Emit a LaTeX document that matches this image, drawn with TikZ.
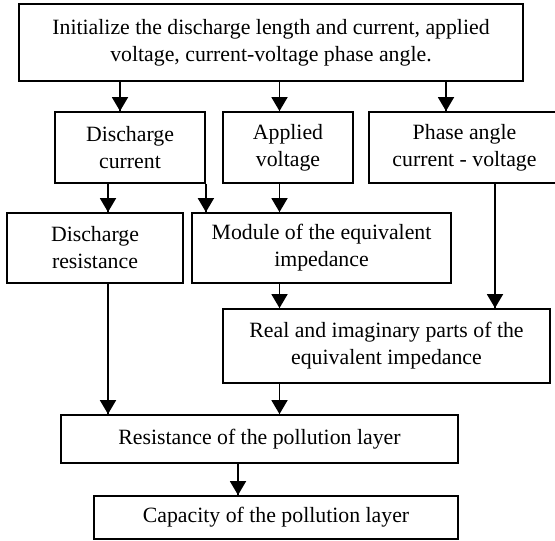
\documentclass[tikz,border=0pt]{standalone}
\usepackage{fontspec}
\setmainfont{Liberation Serif}
\usetikzlibrary{arrows.meta}
\usetikzlibrary{decorations.markings}
\tikzset{->/.style = {decoration={markings,
                                  mark=at position 1 with {\arrow{Triangle[width=16pt,length=14pt]}}},
                      postaction={decorate}}}
\tikzset{box/.style = {draw, line width=1.8pt, align=center, inner sep=0,
                       font=\fontsize{21.8}{27}\selectfont}}

\begin{document}
\begin{tikzpicture}[x=1pt, y=-1pt, line width=1.8pt]
    \useasboundingbox (0, 0) rectangle (555, 541);
    \coordinate (c1) at (108, 0);
    \coordinate (c2) at (120, 0);
    \coordinate (c4) at (238, 0);
    \coordinate (c5) at (279.5, 0);
    \coordinate (c6) at (446, 0);
    \coordinate (c7) at (495, 0);
    \node [box, minimum width=504pt, minimum height=77pt] (init) at (271, 42.5)
        {Initialize the discharge length and current, applied\\voltage, current-voltage phase angle.};
    \node [box, minimum width=150pt, minimum height=71pt] (cur) at (130, 147.5) {Discharge\\current};
    \node [box, minimum width=130pt, minimum height=71pt] (volt) at (288, 147.5) {Applied\\voltage};
    \node [box, minimum width=191pt, minimum height=71pt] (phase) at (464.5, 147.5) {Phase angle\\current - voltage};
    \node [box, minimum width=176pt, minimum height=70pt] (res) at (95, 248) {Discharge\\resistance};
    \node [box, minimum width=259pt, minimum height=70pt] (mod) at (321.5, 248) {Module of the equivalent\\impedance};
    \node [box, minimum width=327pt, minimum height=74pt] (real) at (386.5, 346)
        {Real and imaginary parts of the\\equivalent impedance};
    \node [box, minimum width=397pt, minimum height=48pt] (poll) at (259.5, 439) {Resistance of the pollution layer};
    \node [box, minimum width=364pt, minimum height=43pt] (cap) at (276, 517.5) {Capacity of the pollution layer};
    \draw [->] (init.south -| c2) -- (cur.north -| c2);
    \draw [->] (init.south -| c5) -- (volt.north -| c5);
    \draw [->] (init.south -| c6) -- (phase.north -| c6);
    \draw [->] (cur.south -| c1) -- (res.north -| c1);
    \draw [->] (cur.south east) -- (mod.north -| cur.south east);
    \draw [->] (volt.south -| c5) -- (mod.north -| c5);
    \draw [->] (mod.south -| c5) -- (real.north -| c5);
    \draw [->] (phase.south -| c7) -- (real.north -| c7);
    \draw [->] (res.south -| c1) -- (poll.north -| c1);
    \draw [->] (real.south -| c5) -- (poll.north -| c5);
    \draw [->] (poll.south -| c4) -- (cap.north -| c4);
  \end{tikzpicture}
\end{document}
